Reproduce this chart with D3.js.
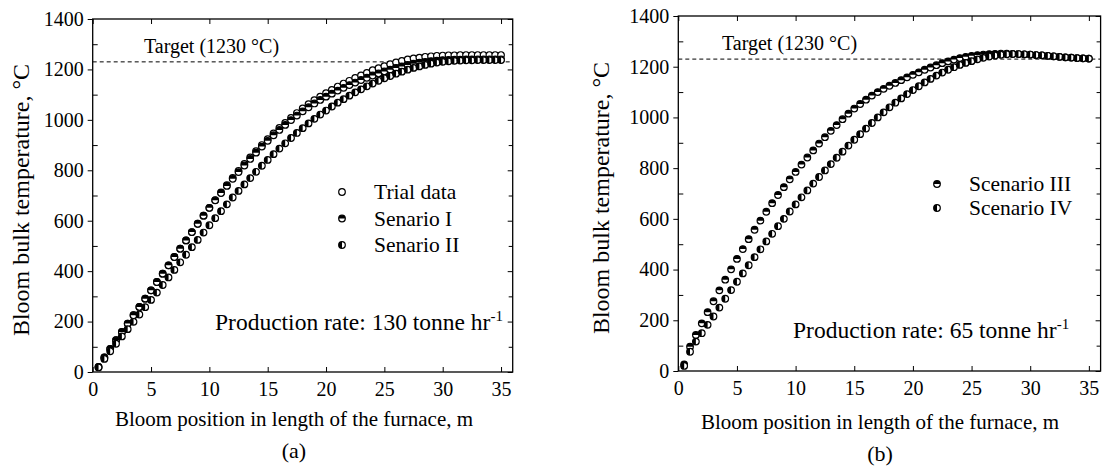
<!DOCTYPE html>
<html>
<head>
<meta charset="utf-8">
<script src="https://cdn.jsdelivr.net/npm/d3@7"></script>
<style>
  body { margin: 0; background: #fff; }
  svg text { font-family: "Liberation Serif", "Times New Roman", "DejaVu Serif", serif; fill: #000; }
</style>
</head>
<body>
<div id="chart"></div>
<script>
// positions along the furnace, m (0.5 m steps)
var positions = d3.range(1, 71).map(function(i) { return i * 0.5; });

var xTicks = [0, 5, 10, 15, 20, 25, 30, 35];
var yTicks = [0, 200, 400, 600, 800, 1000, 1200, 1400];
var targetTemp = 1230;

// panel (a) production rate 130 tonne/hr
var trialData = [20, 58, 92, 126, 159, 192, 225, 258, 291, 324, 357, 390, 423, 456, 489, 522, 555, 588, 620, 651,
  682, 712, 741, 770, 798, 825, 851, 876, 900, 923, 946, 968, 988, 1008, 1027, 1045, 1062, 1078, 1092, 1106,
  1119, 1132, 1144, 1155, 1166, 1176, 1186, 1197, 1205, 1213, 1221, 1228, 1234, 1240, 1244, 1247, 1250, 1252, 1254, 1255,
  1256, 1256, 1257, 1257, 1257, 1257, 1257, 1257, 1257, 1257];
var senarioI = [20, 58, 92, 126, 159, 192, 225, 258, 291, 324, 357, 390, 423, 456, 489, 522, 555, 588, 620, 651,
  681, 710, 738, 766, 793, 819, 845, 870, 894, 917, 939, 960, 980, 999, 1017, 1034, 1050, 1065, 1079, 1092,
  1104, 1116, 1127, 1138, 1148, 1158, 1167, 1176, 1184, 1192, 1199, 1206, 1212, 1218, 1223, 1227, 1230, 1233, 1235, 1237,
  1238, 1239, 1239, 1240, 1240, 1240, 1240, 1240, 1240, 1240];
var senarioII = [18, 52, 82, 112, 141, 170, 199, 228, 257, 286, 315, 345, 375, 405, 435, 465, 495, 524, 553, 582,
  610, 638, 665, 692, 718, 744, 769, 794, 818, 841, 864, 886, 907, 928, 948, 967, 986, 1004, 1021, 1037,
  1053, 1068, 1082, 1096, 1109, 1121, 1133, 1144, 1155, 1165, 1174, 1183, 1191, 1199, 1206, 1212, 1218, 1223, 1227, 1230,
  1232, 1234, 1235, 1236, 1236, 1237, 1237, 1237, 1237, 1237];

// panel (b) production rate 65 tonne/hr
var scenarioIII = [26, 96, 142, 188, 232, 275, 318, 360, 401, 442, 481, 520, 557, 593, 628, 662, 694, 725, 756, 785,
  814, 842, 870, 897, 922, 947, 970, 993, 1015, 1035, 1053, 1070, 1086, 1100, 1113, 1125, 1136, 1147, 1158, 1168,
  1178, 1188, 1197, 1206, 1214, 1221, 1228, 1234, 1239, 1243, 1246, 1248, 1250, 1251, 1252, 1252, 1251, 1250, 1249, 1248,
  1246, 1245, 1243, 1241, 1239, 1237, 1236, 1234, 1233, 1232];
var scenarioIV = [20, 76, 116, 149, 182, 215, 250, 285, 319, 352, 385, 417, 449, 480, 511, 541, 571, 600, 629, 657,
  685, 712, 739, 765, 791, 816, 841, 865, 889, 912, 934, 956, 978, 1000, 1020, 1040, 1058, 1075, 1092, 1108,
  1123, 1138, 1152, 1165, 1177, 1188, 1198, 1207, 1215, 1222, 1229, 1235, 1240, 1244, 1247, 1249, 1250, 1250, 1249, 1248,
  1246, 1245, 1243, 1241, 1239, 1237, 1236, 1234, 1233, 1232];

var width = 1111, height = 467;
var serif = '"Liberation Serif", "Times New Roman", serif';
var svg = d3.select('#chart').append('svg')
  .attr('width', width)
  .attr('height', height);

var r = 3.3;

// marker drawing: open, top half filled, left half filled
function drawMarker(g, kind) {
  g.append('circle').attr('r', r).attr('fill', '#fff').attr('stroke', '#000').attr('stroke-width', 1.2);
  var arc = null;
  if (kind === 'top') {
    arc = d3.arc()({innerRadius: 0, outerRadius: r, startAngle: -Math.PI / 2, endAngle: Math.PI / 2});
  } else if (kind === 'left') {
    arc = d3.arc()({innerRadius: 0, outerRadius: r, startAngle: Math.PI, endAngle: 2 * Math.PI});
  }
  if (arc) g.append('path').attr('d', arc).attr('fill', '#000');
}

function addText(g, size) {
  return g.append('text').style('font-family', serif).style('font-size', size + 'px');
}

function drawPanel(cfg) {
  var x = d3.scaleLinear().domain([0, 36]).range([cfg.left, cfg.right]);
  var y = d3.scaleLinear().domain([0, 1400]).range([cfg.bottom, cfg.top]);
  var g = svg.append('g');

  // frame
  g.append('rect')
    .attr('x', cfg.left).attr('y', cfg.top)
    .attr('width', cfg.right - cfg.left).attr('height', cfg.bottom - cfg.top)
    .attr('fill', 'none').attr('stroke', '#000').attr('stroke-width', 1.3);

  // bottom / top axes, ticks inward
  g.append('g').attr('transform', 'translate(0,' + cfg.bottom + ')')
    .call(d3.axisBottom(x).tickValues(xTicks).tickSize(-5).tickPadding(10).tickFormat(d3.format('d')));
  g.append('g').attr('transform', 'translate(0,' + cfg.top + ')')
    .call(d3.axisTop(x).tickValues(xTicks).tickSize(-5).tickFormat(''));

  // left / right axes
  var minor = d3.range(100, 1400, 200);
  g.append('g').attr('transform', 'translate(' + cfg.left + ',0)')
    .call(d3.axisLeft(y).tickValues(yTicks).tickSize(5).tickPadding(4).tickFormat(d3.format('d')));
  g.append('g').attr('transform', 'translate(' + cfg.left + ',0)')
    .call(d3.axisLeft(y).tickValues(minor).tickSize(-5).tickFormat(''));
  g.append('g').attr('transform', 'translate(' + cfg.right + ',0)')
    .call(d3.axisRight(y).tickValues(yTicks).tickSize(-5).tickFormat(''));
  g.append('g').attr('transform', 'translate(' + cfg.right + ',0)')
    .call(d3.axisRight(y).tickValues(minor).tickSize(-4).tickFormat(''));

  g.selectAll('.domain').remove();
  g.selectAll('.tick line').attr('stroke', '#000').attr('stroke-width', 1);
  g.selectAll('.tick text').style('font-size', '20px').style('font-family', serif);

  // target line
  g.append('line')
    .attr('x1', cfg.left).attr('x2', cfg.right)
    .attr('y1', y(targetTemp)).attr('y2', y(targetTemp))
    .attr('stroke', '#000').attr('stroke-width', 1).attr('stroke-dasharray', '4,3');
  addText(g, 20)
    .attr('x', cfg.targetX).attr('y', y(targetTemp) - 9)
    .text('Target (1230 °C)');

  // series
  cfg.series.forEach(function(s) {
    var pts = g.append('g').selectAll('g').data(s.values).enter().append('g')
      .attr('transform', function(d, i) { return 'translate(' + x(positions[i]) + ',' + y(d) + ')'; });
    pts.each(function() { drawMarker(d3.select(this), s.kind); });
  });

  // legend
  cfg.series.forEach(function(s, i) {
    var ly = cfg.legendY + i * cfg.legendStep;
    var lg = g.append('g').attr('transform', 'translate(' + cfg.legendX + ',' + ly + ')');
    drawMarker(lg, s.kind);
    addText(g, 21.5)
      .attr('x', cfg.legendX + 32).attr('y', ly + 7)
      .text(s.name);
  });

  // production rate
  var pr = addText(g, 23.5).attr('x', cfg.rateX).attr('y', cfg.rateY);
  pr.append('tspan').text('Production rate: ' + cfg.rate + ' tonne hr');
  pr.append('tspan').attr('dy', -9).style('font-size', '15px').text('-1');

  // axis titles
  addText(g, 24)
    .attr('transform', 'translate(' + cfg.yTitleX + ',' + cfg.yTitleY + ') rotate(-90)')
    .attr('text-anchor', 'middle')
    .text('Bloom bulk temperature, °C');
  addText(g, 21)
    .attr('x', cfg.xTitleX).attr('y', cfg.xTitleY)
    .attr('text-anchor', 'middle')
    .text('Bloom position in length of the furnace, m');
  addText(g, 22)
    .attr('x', cfg.xTitleX).attr('y', cfg.xTitleY + 32)
    .attr('text-anchor', 'middle')
    .text(cfg.tag);
}

drawPanel({
  left: 92.7, right: 512.7, top: 19, bottom: 372,
  targetX: 144, legendX: 342, legendY: 192, legendStep: 26.5,
  rateX: 215, rateY: 330, rate: 130,
  yTitleX: 29, yTitleY: 200, xTitleX: 294, xTitleY: 426, tag: '(a)',
  series: [
    {name: 'Trial data', kind: 'open', values: trialData},
    {name: 'Senario I', kind: 'top', values: senarioI},
    {name: 'Senario II', kind: 'left', values: senarioII}
  ]
});

drawPanel({
  left: 678.3, right: 1100.6, top: 16, bottom: 371,
  targetX: 722, legendX: 937, legendY: 184, legendStep: 24,
  rateX: 793, rateY: 338, rate: 65,
  yTitleX: 609, yTitleY: 198, xTitleX: 880, xTitleY: 429, tag: '(b)',
  series: [
    {name: 'Scenario III', kind: 'top', values: scenarioIII},
    {name: 'Scenario IV', kind: 'left', values: scenarioIV}
  ]
});
</script>
</body>
</html>
